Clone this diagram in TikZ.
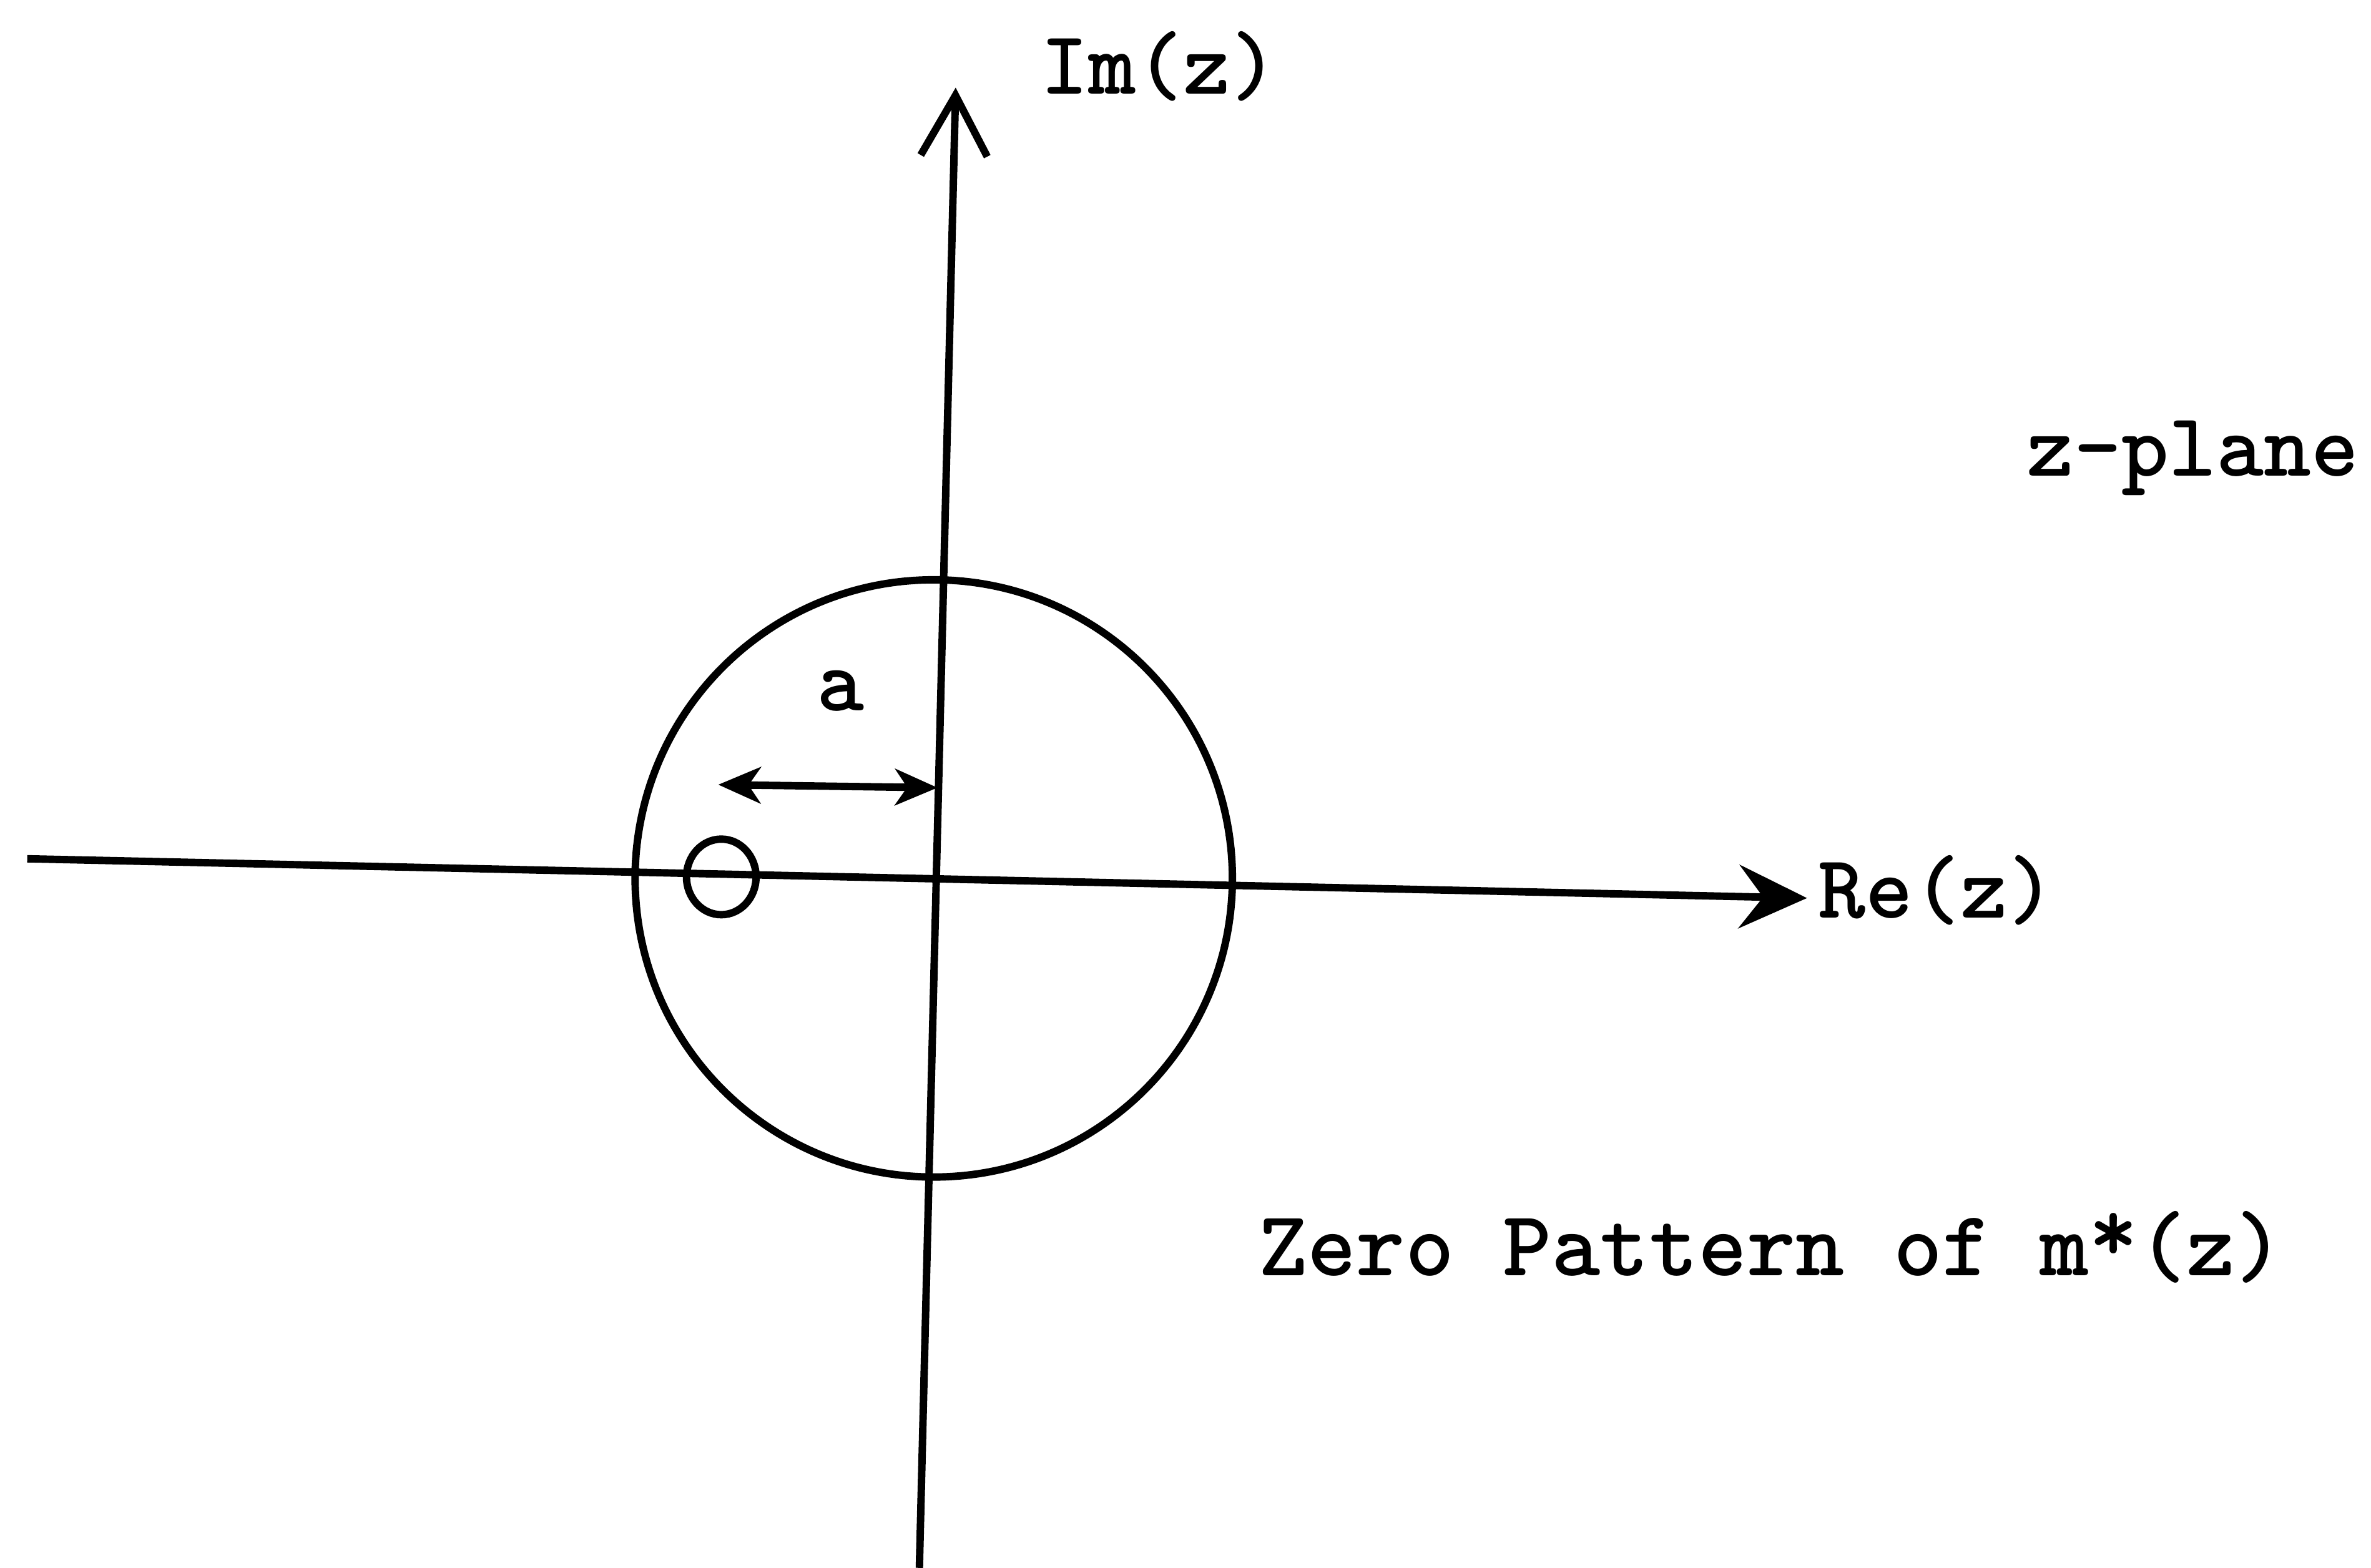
\documentclass[tikz,border=0pt]{standalone}
\usetikzlibrary{arrows.meta}

\begin{document}
\begin{tikzpicture}[line width=1.4pt,
  lbl/.style={font=\ttfamily\bfseries\fontsize{17}{20}\selectfont,inner sep=0pt}]
\useasboundingbox (0,0) rectangle (15.68,10.37);
\coordinate (imbot) at (6.08,0);
\coordinate (imtop) at (6.32,9.79);
\coordinate (releft) at (0.18,4.69);
\coordinate (reright) at (11.95,4.43);
\coordinate (aleft) at (4.75,5.18);
\coordinate (aright) at (6.20,5.16);
% axes
\draw[-{Straight Barb[length=4mm,width=4.4mm]}] (imbot) -- (imtop);
\draw[-{Stealth[length=4.5mm,width=4.2mm,inset=1.6mm]}] (releft) -- (reright);
\node[lbl,anchor=west] (imlbl) at (6.86,9.93) {Im(z)};
\node[lbl,anchor=west] (relbl) at (12.00,4.48) {Re(z)};
% unit circle and zero
\draw (6.175,4.56) circle (1.975);
\draw (4.77,4.57) ellipse (0.23 and 0.25);
\draw[{Stealth[length=2.8mm,width=2.4mm,inset=0.8mm]}-{Stealth[length=2.8mm,width=2.4mm,inset=0.8mm]}] (aleft) -- (aright);
\node[lbl] (alabel) at (5.56,5.80) {a};
\node[lbl,anchor=west] (plane) at (13.38,7.34) {z-plane};
\node[lbl,anchor=west,font=\ttfamily\bfseries\fontsize{17.5}{20}\selectfont] (title) at (8.30,2.12) {Zero Pattern of m\raisebox{0.35ex}{*}(z)};
\end{tikzpicture}
\end{document}
